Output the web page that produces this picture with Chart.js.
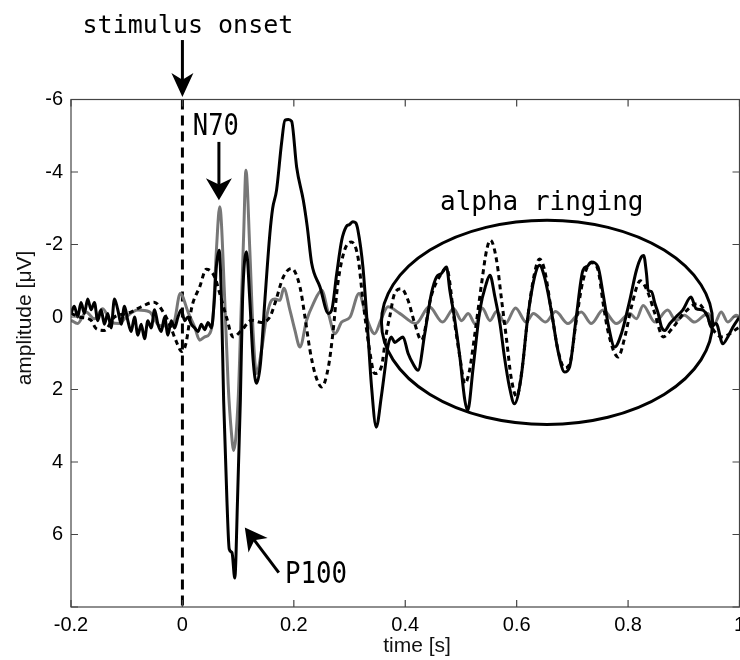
<!DOCTYPE html>
<html>
<head>
<meta charset="utf-8">
<script src="https://cdn.jsdelivr.net/npm/chart.js@4.4.1/dist/chart.umd.min.js"></script>
<style>
html, body { margin: 0; padding: 0; background: #fff; overflow: hidden; }
#wrap { width: 800px; height: 660px; }
</style>
</head>
<body>
<div id="wrap"><canvas id="erp" width="800" height="660"></canvas></div>
<script>
// averaged response (black solid)
const blackT = [-0.200, -0.194, -0.188, -0.182, -0.176, -0.170, -0.164, -0.158, -0.152, -0.146,
  -0.140, -0.134, -0.128, -0.122, -0.116, -0.110, -0.104, -0.098, -0.092, -0.086,
  -0.080, -0.074, -0.068, -0.062, -0.056, -0.050, -0.044, -0.038, -0.032, -0.026,
  -0.020, -0.014, -0.008, -0.002,
  0.004, 0.010, 0.016, 0.022, 0.028, 0.034, 0.040, 0.046, 0.052, 0.057, 0.061, 0.066, 0.070,
  0.074, 0.080, 0.084, 0.089, 0.094, 0.099, 0.104, 0.108, 0.115, 0.121, 0.127, 0.133, 0.140,
  0.148, 0.157, 0.162, 0.169, 0.178, 0.184, 0.190, 0.196, 0.205, 0.217, 0.224, 0.232, 0.247,
  0.262, 0.268, 0.277, 0.286, 0.294, 0.300, 0.306, 0.311, 0.315, 0.324, 0.333, 0.339, 0.348,
  0.357, 0.363, 0.369, 0.375, 0.381, 0.387, 0.396, 0.405, 0.414, 0.423, 0.435, 0.447, 0.456,
  0.465, 0.474, 0.480, 0.489, 0.498, 0.507, 0.512, 0.522, 0.534, 0.545, 0.552, 0.561, 0.570,
  0.578, 0.587, 0.596, 0.608, 0.620, 0.632, 0.641, 0.650, 0.662, 0.674, 0.686, 0.695, 0.707,
  0.719, 0.727, 0.734, 0.746, 0.755, 0.764, 0.776, 0.788, 0.803, 0.815, 0.824, 0.828, 0.833,
  0.836, 0.842, 0.848, 0.854, 0.860, 0.866, 0.875, 0.886, 0.898, 0.913, 0.922, 0.934, 0.943,
  0.949, 0.958, 0.970, 0.979, 0.988, 1.000];
const blackV = [-0.1, -0.3, 0.0, -0.4, -0.1, -0.5, -0.2, -0.4, 0.1, -0.2,
  0.2, -0.1, 0.3, -0.5, -0.2, 0.2, -0.3, 0.1, 0.4, 0.0,
  0.5, 0.2, 0.6, 0.1, 0.3, -0.2, 0.2, 0.4, 0.0, 0.5,
  0.1, 0.3, 0.0, -0.2,
  0.1, 0.0, 0.2, 0.3, 0.4, 0.2, 0.35, 0.15, 0.3, -0.4, -1.4, -1.84, -0.5,
  2.3, 5.1, 6.4, 6.5, 7.2, 5.0, 2.3, -0.5, -1.8, -0.46, 1.2, 1.83, 1.3,
  -0.46, -2.3, -3.0, -3.5, -4.8, -5.43, -5.45, -5.4, -4.14, -3.22, -2.5, -1.48, -0.83,
  -0.1, -0.19, -1.2, -2.12, -2.49, -2.55, -2.63, -2.6, -2.4, -1.38, 0.46, 1.83, 3.04,
  2.2, 1.5, 0.8, 0.55, 0.7, 0.64, 0.55, 1.0, 1.29, 1.47, 0.46, -0.65, -1.1,
  -1.2, -1.38, -0.74, 0.09, 1.1, 2.3, 2.58, 1.38, -0.19, -0.9, -1.15, -0.55, 0.18,
  1.1, 1.93, 2.39, 1.66, 0.0, -1.1, -1.43, -1.1, -0.19, 0.92, 1.52, 1.38, 0.0,
  -1.29, -1.4, -1.52, -1.38, -0.65, 0.18, 0.83, 0.46, -0.46, -1.29, -1.66, -1.7, -1.2,
  -0.74, -0.7, -0.38, -0.1, 0.28, 0.37, 0.18, 0.0, -0.19, -0.55, -0.23, -0.19, 0.0,
  0.28, 0.18, 0.74, 0.55, 0.28, 0.0];

// grey solid trace
const grayT = [-0.200, -0.188, -0.173, -0.158, -0.143, -0.128, -0.113, -0.101, -0.080, -0.059,
  -0.042, -0.027, -0.015, -0.004, 0.011, 0.022, 0.031, 0.040, 0.049, 0.055, 0.061, 0.067,
  0.076, 0.082, 0.088, 0.092, 0.100, 0.106, 0.110, 0.114, 0.121, 0.127, 0.133, 0.142, 0.151,
  0.160, 0.166, 0.175, 0.182, 0.193, 0.202, 0.211, 0.223, 0.235, 0.250, 0.262, 0.274, 0.286,
  0.301, 0.317, 0.330, 0.345, 0.357, 0.369, 0.390, 0.419, 0.443, 0.467, 0.487, 0.501, 0.513,
  0.526, 0.538, 0.552, 0.564, 0.580, 0.598, 0.617, 0.630, 0.652, 0.670, 0.692, 0.716, 0.734,
  0.755, 0.779, 0.803, 0.815, 0.827, 0.848, 0.871, 0.886, 0.901, 0.919, 0.943, 0.955, 0.967,
  0.979, 0.994, 1.000];
const grayV = [0.09, 0.18, -0.14, 0.05, -0.23, 0.14, 0.18, 0.0, -0.19, -0.14,
  0.23, 0.25, 0.14, -0.65, -0.1, 0.28, 0.64, 0.55, 0.46, 0.0, -1.84, -3.04,
  -0.46, 1.83, 3.2, 3.68, 2.3, -0.46, -2.3, -4.05, -1.84, 0.46, 1.56, 0.92, 0.0,
  -0.46, -0.5, -0.46, -0.79, -0.19, 0.37, 0.83, 0.09, -0.37, -0.74, -0.1, 0.46, 0.14,
  0.0, -0.65, 0.0, 0.46, 0.05, -0.28, -0.1, 0.18, -0.28, 0.14, -0.23, 0.1, -0.1,
  0.2, -0.25, 0.1, -0.15, 0.18, -0.25, 0.14, -0.1, 0.14, -0.15, 0.18, -0.14, 0.18,
  -0.19, 0.18, -0.1, 0.05, -0.32, 0.14, -0.19, 0.1, -0.05, 0.14, -0.1, 0.18, -0.14,
  0.14, -0.05, 0.0];

// dashed trace
const dashT = [-0.200, -0.185, -0.164, -0.155, -0.140, -0.122, -0.098, -0.074, -0.051, -0.033,
  -0.021, -0.012, -0.001, 0.006, 0.017, 0.031, 0.043, 0.058, 0.067, 0.079, 0.091, 0.106,
  0.124, 0.142, 0.157, 0.166, 0.181, 0.196, 0.211, 0.220, 0.229, 0.238, 0.250, 0.262, 0.270,
  0.279, 0.291, 0.303, 0.315, 0.324, 0.336, 0.345, 0.357, 0.366, 0.372, 0.381, 0.393, 0.405,
  0.417, 0.429, 0.447, 0.465, 0.474, 0.489, 0.498, 0.507, 0.515, 0.525, 0.537, 0.546, 0.553,
  0.564, 0.573, 0.582, 0.590, 0.600, 0.610, 0.620, 0.632, 0.641, 0.650, 0.662, 0.674, 0.686,
  0.695, 0.707, 0.719, 0.734, 0.746, 0.755, 0.764, 0.782, 0.795, 0.806, 0.822, 0.835, 0.848,
  0.863, 0.880, 0.900, 0.925, 0.940, 0.950, 0.968, 1.000];
const dashV = [-0.1, 0.0, 0.09, 0.32, 0.37, 0.0, -0.1, -0.28, -0.41, -0.1,
  0.28, 0.64, 0.95, 0.75, -0.28, -0.83, -1.32, -1.1, -0.65, 0.0, 0.55, 0.37,
  0.09, 0.15, 0.0, -0.37, -1.1, -1.34, -0.83, 0.0, 0.92, 1.56, 1.93, 1.38, 0.46,
  -0.92, -1.84, -2.07, -1.66, -0.46, 0.92, 1.56, 1.38, 0.46, 0.0, -0.65, -0.78, -0.46,
  0.18, 0.64, -0.6, -1.2, -1.35, 0.2, 1.1, 1.84, 1.5, 0.46, -0.92, -1.84, -2.12,
  -1.56, -0.46, 0.64, 1.66, 2.2, 1.4, 0.0, -1.2, -1.6, -1.3, -0.2, 0.9, 1.4,
  1.3, 0.1, -1.0, -1.5, -1.3, -0.4, 0.4, 1.1, 0.5, -0.28, -1.0, -0.7, -0.1,
  0.55, 0.3, -0.1, -0.37, -0.1, 0.28, 0.55, 0.28];

// stimulus onset marker
const onsetT = [0, 0];
const onsetV = [-6, 8];

const xTicks = [-0.2, 0, 0.2, 0.4, 0.6, 0.8, 1];
const yTicks = [-6, -4, -2, 0, 2, 4, 6, 8];
const yTickLabels = ['-6', '-4', '-2', '0', '2', '4', '6', ''];

const pts = (t, v) => t.map((x, i) => ({ x: x, y: v[i] }));

const sans = "'Liberation Sans', Arial, sans-serif";
const mono = "'DejaVu Sans Mono', monospace";

function arrow(ctx, x0, y0, x1, y1, len, half) {
  const c = Math.cos(Math.atan2(y1 - y0, x1 - x0));
  const s = Math.sin(Math.atan2(y1 - y0, x1 - x0));
  ctx.beginPath();
  ctx.moveTo(x0, y0);
  ctx.lineTo(x1 - c * len * 0.7, y1 - s * len * 0.7);
  ctx.stroke();
  const bx = x1 - c * len, by = y1 - s * len;
  ctx.beginPath();
  ctx.moveTo(x1, y1);
  ctx.lineTo(bx - s * half, by + c * half);
  ctx.lineTo(x1 - c * len * 0.72, y1 - s * len * 0.72);
  ctx.lineTo(bx + s * half, by - c * half);
  ctx.closePath();
  ctx.fill();
}

function label(ctx, text, px, py, font, sx, align) {
  ctx.save();
  ctx.translate(px, py);
  ctx.scale(sx, 1);
  ctx.font = font;
  ctx.textAlign = align;
  ctx.textBaseline = 'alphabetic';
  ctx.fillText(text, 0, 0);
  ctx.restore();
}

const decor = {
  id: 'decor',
  afterDraw(chart) {
    const { ctx, chartArea: a, scales: { x, y } } = chart;
    const X = v => x.getPixelForValue(v), Y = v => y.getPixelForValue(v);
    ctx.save();

    // axes box and inward ticks
    ctx.strokeStyle = '#444';
    ctx.lineWidth = 1.2;
    ctx.strokeRect(a.left, a.top, a.right - a.left, a.bottom - a.top);
    ctx.beginPath();
    xTicks.forEach(v => {
      ctx.moveTo(X(v), a.bottom); ctx.lineTo(X(v), a.bottom - 7);
      ctx.moveTo(X(v), a.top); ctx.lineTo(X(v), a.top + 7);
    });
    yTicks.forEach(v => {
      ctx.moveTo(a.left, Y(v)); ctx.lineTo(a.left + 7, Y(v));
      ctx.moveTo(a.right, Y(v)); ctx.lineTo(a.right - 7, Y(v));
    });
    ctx.stroke();

    // axis titles
    ctx.fillStyle = '#111';
    ctx.font = '21px ' + sans;
    ctx.textAlign = 'center';
    ctx.textBaseline = 'middle';
    ctx.fillText('time [s]', 417, 646);
    ctx.save();
    ctx.translate(25, 318);
    ctx.rotate(-Math.PI / 2);
    ctx.fillText('amplitude [\u03bcV]', 0, 0);
    ctx.restore();

    // annotations
    ctx.fillStyle = '#000';
    ctx.strokeStyle = '#000';
    ctx.lineWidth = 3;
    label(ctx, 'stimulus onset', X(0.0099), Y(-7.84), '25px ' + mono, 1, 'center');
    arrow(ctx, X(0), Y(-7.64), X(0), Y(-6.07), 24, 11);
    label(ctx, 'N70', X(0.060), Y(-5.02), '30px ' + mono, 0.85, 'center');
    arrow(ctx, X(0.0655), Y(-4.83), X(0.0655), Y(-3.22), 22, 13);
    label(ctx, 'P100', X(0.184), Y(7.33), '30px ' + mono, 0.86, 'left');
    arrow(ctx, X(0.173), Y(7.05), X(0.112), Y(5.81), 22, 12);
    label(ctx, 'alpha ringing', X(0.645), Y(-2.95), '26px ' + mono, 1, 'center');

    // ellipse around the alpha ringing
    const cx = X(0.6545), cy = Y(0.147);
    ctx.beginPath();
    ctx.ellipse(cx, cy, X(0.6545 + 0.2972) - cx, Y(0.147 + 2.818) - cy, 0, 0, Math.PI * 2);
    ctx.stroke();
    ctx.restore();
  }
};

new Chart(document.getElementById('erp'), {
  type: 'line',
  data: {
    datasets: [
      { data: pts(blackT, blackV), borderColor: '#000', borderWidth: 3, order: 1,
        cubicInterpolationMode: 'monotone' },
      { data: pts(dashT, dashV), borderColor: '#000', borderWidth: 3, borderDash: [5, 4], order: 2,
        cubicInterpolationMode: 'monotone' },
      { data: pts(grayT, grayV), borderColor: '#777', borderWidth: 3, order: 3,
        cubicInterpolationMode: 'monotone' },
      { data: pts(onsetT, onsetV), borderColor: '#000', borderWidth: 3, borderDash: [10, 6], order: 4 }
    ]
  },
  options: {
    responsive: false,
    animation: false,
    events: [],
    devicePixelRatio: 1,
    elements: { point: { radius: 0 }, line: { borderCapStyle: 'butt', borderJoinStyle: 'round' } },
    layout: { padding: { left: 0, top: 99.5, right: 60.5, bottom: 0 } },
    plugins: { legend: { display: false }, tooltip: { enabled: false } },
    scales: {
      x: {
        type: 'linear', min: -0.2, max: 1,
        grid: { display: false, drawTicks: false },
        border: { display: false },
        afterBuildTicks: s => { s.ticks = xTicks.map(v => ({ value: v })); },
        afterFit: s => { s.height = 53; },
        ticks: { color: '#000', padding: 6, maxRotation: 0, autoSkip: false,
          font: { family: sans, size: 20 },
          callback: v => String(Math.round(v * 10) / 10) }
      },
      y: {
        type: 'linear', min: -6, max: 8, reverse: true,
        grid: { display: false, drawTicks: false },
        border: { display: false },
        afterBuildTicks: s => { s.ticks = yTicks.map(v => ({ value: v })); },
        afterFit: s => { s.width = 71; },
        ticks: { color: '#000', padding: 8, autoSkip: false,
          font: { family: sans, size: 20 },
          callback: (v, i) => yTickLabels[i] }
      }
    }
  },
  plugins: [decor]
});
</script>
</body>
</html>
